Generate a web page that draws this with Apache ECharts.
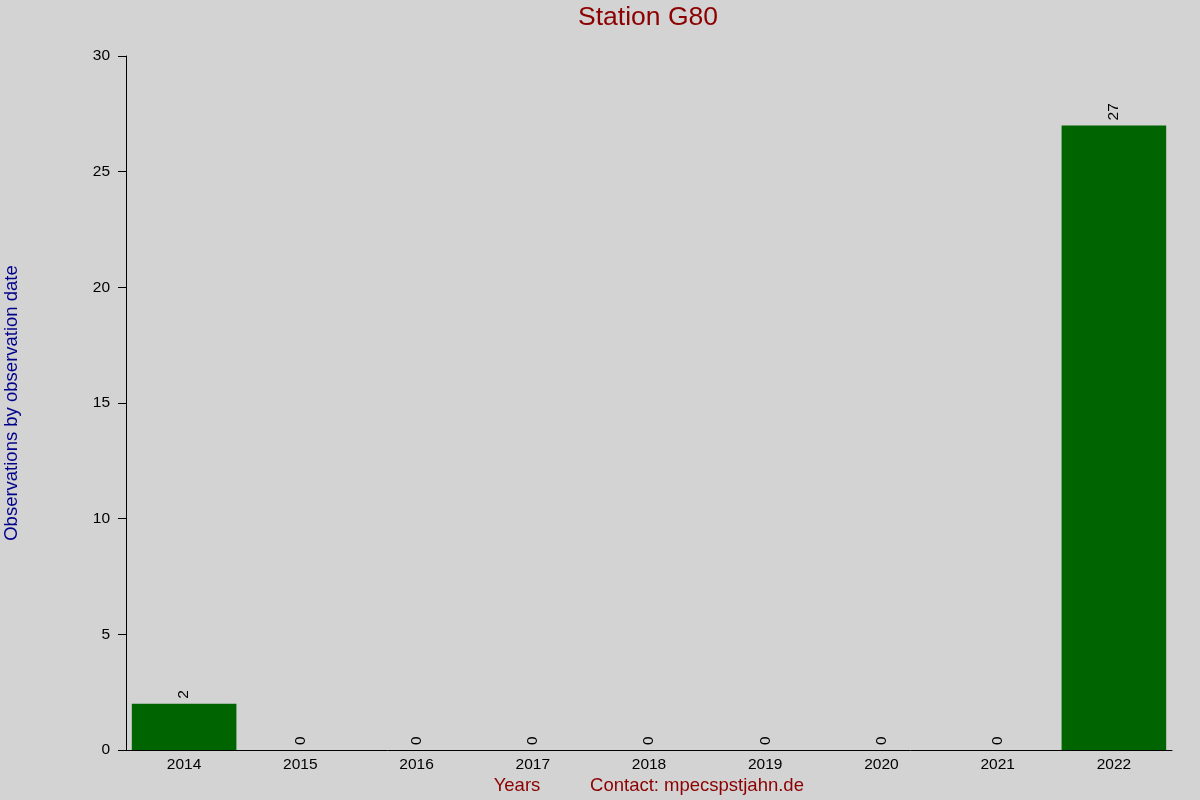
<!DOCTYPE html>
<html><head><meta charset="utf-8">
<script src="https://cdn.jsdelivr.net/npm/echarts@6/dist/echarts.min.js"></script>
<style>html,body{margin:0;padding:0;background:#d3d3d3}#c{width:1200px;height:800px}</style>
</head><body><div id="c"></div>
<script>
const years = ['2014','2015','2016','2017','2018','2019','2020','2021','2022'];
const counts = [2,0,0,0,0,0,0,0,27];
const yTicks = [0,5,10,15,20,25,30];
const FONT = 'Liberation Sans, Arial, sans-serif';
const chart = echarts.init(document.getElementById('c'));
chart.setOption({
  backgroundColor: '#d3d3d3',
  animation: false,
  grid: {left: 126, right: 28, top: 56, bottom: 50},
  xAxis: {type: 'category', data: years,
    axisLine: {lineStyle: {color: '#000', width: 1}},
    axisTick: {show: false},
    axisLabel: {color: '#000', fontSize: 15.5, fontFamily: FONT, margin: 7},
    splitLine: {show: false}},
  yAxis: {type: 'value', min: yTicks[0], max: yTicks[yTicks.length-1], interval: 5,
    axisLine: {show: true, lineStyle: {color: '#000', width: 1}},
    axisTick: {show: true, length: 8, lineStyle: {color: '#000'}},
    axisLabel: {color: '#000', fontSize: 15.5, fontFamily: FONT, margin: 16},
    splitLine: {show: false}},
  series: [{type: 'bar', data: counts, barCategoryGap: '10%',
    itemStyle: {color: '#006400'},
    label: {show: true, position: 'top', rotate: 90, distance: 5, align: 'left', verticalAlign: 'middle',
      color: '#000', fontSize: 15.5, fontFamily: FONT}}],
  graphic: [
    {type: 'text', x: 648, y: 18,
      style: {text: 'Station G80', fill: '#8b0000', font: '26.5px ' + FONT, textAlign: 'center', textVerticalAlign: 'middle'}},
    {type: 'text', x: 12, y: 403, rotation: Math.PI/2,
      style: {text: 'Observations by observation date', fill: '#00008b', font: '18.5px ' + FONT,
        textAlign: 'center', textVerticalAlign: 'middle'}},
    {type: 'text', x: 517, y: 786, style: {text: 'Years', fill: '#8b0000', font: '18.5px ' + FONT, textAlign: 'center', textVerticalAlign: 'middle'}},
    {type: 'text', x: 697, y: 786, style: {text: 'Contact: mpecspstjahn.de', fill: '#8b0000', font: '18.5px ' + FONT, textAlign: 'center', textVerticalAlign: 'middle'}}
  ]
});
</script></body></html>
